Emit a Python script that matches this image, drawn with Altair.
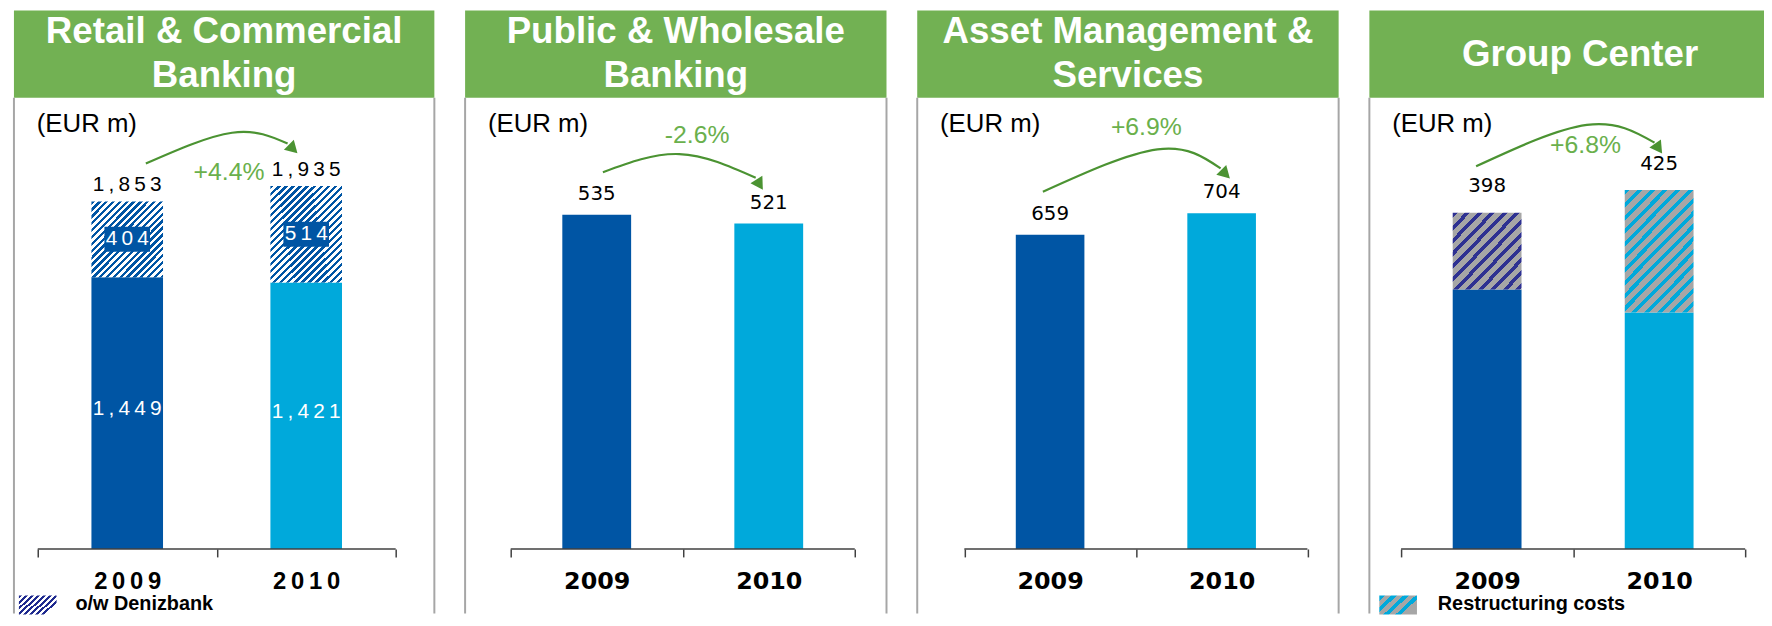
import altair as alt
import pandas as pd

# ---------------- data ----------------
years = ["2009", "2010"]

rcb_base = [1449, 1421]
rcb_deniz = [404, 514]
rcb_total = [1853, 1935]

pwb_total = [535, 521]
ams_total = [659, 704]

gc_total = [398, 425]
gc_restructuring = [91, 145]

titles = [["Retail & Commercial", "Banking"],
          ["Public & Wholesale", "Banking"],
          ["Asset Management &", "Services"],
          ["Group Center"]]
growth_labels = ["+4.4%", "-2.6%", "+6.9%", "+6.8%"]

# growth arrows (x in category units 0..2, y in EUR m)
arc_x = [[0.604, 1.086, 1.396], [0.536, 0.980, 1.424], [0.458, 1.126, 1.494], [0.436, 1.080, 1.473]]
arc_y = [[2055, 2219, 2161], [603, 632, 594], [749, 838, 798], [453, 502, 481]]
head_x = [1.427, 1.447, 1.523, 1.497]
head_y = [2132, 583, 786, 474]
head_angle = [135, 148, 135, 145]
growth_x = [1.069, 1.084, 1.061, 1.072]
growth_y = [2007, 663, 884, 478]

# ---------------- layout / style ----------------
PANEL_W = [424, 425, 425, 398]
HEADER_CX = [212, 212.5, 212.5, 212.5]
AXIS_LEFT = [24, 46, 47.5, 32]
STEP = [180.5, 173.5, 173, 173.5]
Y_MAX = [2405, 722, 946, 534]
LABEL_DY = [-16, -21, -21, -26.5]
PLOT_H = 455

DARK = "#0055a4"
LIGHT = "#00a9db"
HEADER = "#72b153"
PCT = "#6ab04c"
ARC = "#4b9332"
FRAME = "#a6a6a6"
NAVY = "#2e3192"
GREY = "#a6a6a6"
AXC = "#404040"
ARIAL = "Liberation Sans"
WIDE = "DejaVu Sans"
THIN = "\u2009"


def spaced(v):
    return THIN.join(f"{v:,}")


def stripes(bg, fg, n, frac, r):
    stops = []
    for i in range(n):
        a, b, c = i / n, (i + frac) / n, (i + 1) / n
        stops += [alt.GradientStop(color=fg, offset=a), alt.GradientStop(color=fg, offset=b),
                  alt.GradientStop(color=bg, offset=b), alt.GradientStop(color=bg, offset=c)]
    return alt.LinearGradient(gradient="linear", stops=stops, x1=0, y1=0, x2=1, y2=r)


one = pd.DataFrame({"k": [0]})


def scales(i):
    W, a, s = PANEL_W[i], AXIS_LEFT[i], STEP[i]
    outer = W - 2 * s
    xsc = alt.Scale(type="band", domain=years, paddingInner=0,
                    paddingOuter=outer / (2 * s), align=a / outer)
    qsc = alt.Scale(domain=[-a / s, (W - a) / s], nice=False, zero=False)
    ysc = alt.Scale(domain=[0, Y_MAX[i]], nice=False, zero=True)
    return xsc, qsc, ysc


def year_axis(i):
    kw = dict(title=None, domain=False, grid=False, tickBand="extent", tickSize=8,
              tickColor=AXC, tickWidth=1.5, labelAngle=0, labelFontSize=24,
              labelFontWeight="bold", labelColor="black", labelPadding=13)
    if i == 0:
        kw.update(labelFont=ARIAL, labelExpr="join(split(datum.label, ''), '\u2009')")
    else:
        kw.update(labelFont=WIDE)
    return alt.Axis(**kw)


def decoration(i):
    W = PANEL_W[i]
    ty = -66 if len(titles[i]) == 2 else -43
    layers = [
        alt.Chart(one).mark_rect(color=HEADER).encode(
            x=alt.value(0), x2=alt.value(W), y=alt.value(-88), y2=alt.value(0)),
        alt.Chart(one).mark_text(font=ARIAL, fontSize=37, fontWeight="bold", color="white",
                                 align="center", baseline="middle", lineHeight=44).encode(
            x=alt.value(HEADER_CX[i]), y=alt.value(ty), text=alt.value(titles[i])),
        alt.Chart(one).mark_rule(color=FRAME, strokeWidth=2).encode(
            x=alt.value(0), y=alt.value(0), y2=alt.value(520)),
        alt.Chart(one).mark_text(font=ARIAL, fontSize=26, color="black",
                                 align="left", baseline="middle").encode(
            x=alt.value(23), y=alt.value(26), text=alt.value("(EUR m)")),
    ]
    if i < 3:
        layers.append(alt.Chart(one).mark_rule(color=FRAME, strokeWidth=2).encode(
            x=alt.value(W), y=alt.value(0), y2=alt.value(520)))
    return layers


def arrow_layers(i, qsc, ysc):
    X = lambda f: alt.X(f, scale=qsc, axis=None)
    Y = lambda f: alt.Y(f, scale=ysc, axis=None)
    arc = pd.DataFrame({"u": arc_x[i], "v": arc_y[i]})
    head = pd.DataFrame({"u": [head_x[i]], "v": [head_y[i]]})
    lab = pd.DataFrame({"u": [growth_x[i]], "v": [growth_y[i]], "t": [growth_labels[i]]})
    dom = pd.DataFrame({"u": [0], "u2": [2], "v": [0]})
    return [
        alt.Chart(dom).mark_rule(color=AXC, strokeWidth=1.5).encode(x=X("u:Q"), x2="u2:Q", y=Y("v:Q")),
        alt.Chart(arc).mark_line(interpolate="natural", color=ARC, strokeWidth=2.2).encode(
            x=X("u:Q"), y=Y("v:Q")),
        alt.Chart(head).mark_point(shape="triangle-up", filled=True, size=200, color=ARC,
                                   opacity=1, angle=head_angle[i]).encode(x=X("u:Q"), y=Y("v:Q")),
        alt.Chart(lab).mark_text(font=ARIAL, fontSize=25, color=PCT, align="center",
                                 baseline="middle").encode(x=X("u:Q"), y=Y("v:Q"), text="t:N"),
    ]


color_scale = alt.Scale(domain=years, range=[DARK, LIGHT])


def build_panel(i):
    xsc, qsc, ysc = scales(i)
    ax = year_axis(i)
    XB = alt.X("year:N", scale=xsc, axis=ax)
    band = []
    if i == 0:
        df = pd.DataFrame({"year": years, "base": rcb_base, "part": rcb_deniz, "total": rcb_total,
                           "base_lbl": [spaced(v) for v in rcb_base],
                           "part_lbl": [spaced(v) for v in rcb_deniz],
                           "total_lbl": [spaced(v) for v in rcb_total]})
        hatch = {"2009": stripes("white", DARK, 22, 0.5, 1.05),
                 "2010": stripes("white", DARK, 29, 0.5, 1.37)}
    elif i == 3:
        base = [t - r for t, r in zip(gc_total, gc_restructuring)]
        df = pd.DataFrame({"year": years, "base": base, "part": gc_restructuring, "total": gc_total,
                           "total_lbl": [str(v) for v in gc_total]})
        hatch = {"2009": stripes(GREY, NAVY, 12, 0.4, 1.08),
                 "2010": stripes(GREY, LIGHT, 22, 0.4, 1.75)}
    else:
        tot = pwb_total if i == 1 else ams_total
        df = pd.DataFrame({"year": years, "base": tot, "total": tot,
                           "total_lbl": [str(v) for v in tot]})
        hatch = None

    band.append(alt.Chart(df).mark_bar(width=alt.RelativeBandSize(0.4)).encode(
        x=XB, y=alt.Y("base:Q", scale=ysc, axis=None),
        color=alt.Color("year:N", scale=color_scale, legend=None)))
    if hatch:
        for yr in years:
            band.append(alt.Chart(df).transform_filter(alt.datum.year == yr).mark_bar(
                width=alt.RelativeBandSize(0.4), fill=hatch[yr], strokeWidth=0).encode(
                x=XB, y=alt.Y("base:Q", scale=ysc, axis=None), y2="total:Q"))
    lab_font = ARIAL if i == 0 else WIDE
    lab_size = 21 if i == 0 else 20
    band.append(alt.Chart(df).mark_text(font=lab_font, fontSize=lab_size, color="black",
                                        baseline="middle", dy=LABEL_DY[i]).encode(
        x=XB, y=alt.Y("total:Q", scale=ysc, axis=None), text="total_lbl:N"))
    if i == 0:
        band.append(alt.Chart(df).transform_calculate(mid="datum.base / 2").mark_text(
            font=ARIAL, fontSize=21, color="white", baseline="middle", dy=-4).encode(
            x=XB, y=alt.Y("mid:Q", scale=ysc, axis=None), text="base_lbl:N"))
        band.append(alt.Chart(df).transform_calculate(mid="(datum.base + datum.total) / 2").mark_point(
            shape="M-1,-0.55L1,-0.55L1,0.55L-1,0.55Z", size=2116, filled=True, color=DARK,
            opacity=1, strokeWidth=0).encode(
            x=XB, y=alt.Y("mid:Q", scale=ysc, axis=None)))
        band.append(alt.Chart(df).transform_calculate(mid="(datum.base + datum.total) / 2").mark_text(
            font=ARIAL, fontSize=21, color="white", baseline="middle").encode(
            x=XB, y=alt.Y("mid:Q", scale=ysc, axis=None), text="part_lbl:N"))

    quant = arrow_layers(i, qsc, ysc)
    deco = decoration(i)
    if i == 0:
        deco += [
            alt.Chart(one).mark_rect(fill=stripes("white", "#1f2a8f", 8, 0.5, 0.53), strokeWidth=0).encode(
                x=alt.value(5), x2=alt.value(43), y=alt.value(502), y2=alt.value(521)),
            alt.Chart(one).mark_text(font=ARIAL, fontSize=20, fontWeight="bold", color="black",
                                     align="left", baseline="middle").encode(
                x=alt.value(62), y=alt.value(511), text=alt.value("o/w Denizbank")),
        ]
    if i == 3:
        deco += [
            alt.Chart(one).mark_rect(fill=stripes(GREY, LIGHT, 4, 0.45, 0.53), strokeWidth=0).encode(
                x=alt.value(10), x2=alt.value(48), y=alt.value(502), y2=alt.value(521)),
            alt.Chart(one).mark_text(font=ARIAL, fontSize=20, fontWeight="bold", color="black",
                                     align="left", baseline="middle").encode(
                x=alt.value(69), y=alt.value(511), text=alt.value("Restructuring costs")),
        ]

    return alt.layer(alt.layer(*deco), alt.layer(*band), alt.layer(*quant)).resolve_scale(
        x="independent").properties(width=PANEL_W[i], height=PLOT_H)


chart = alt.hconcat(*[build_panel(i) for i in range(4)], spacing=29).properties(
    padding={"left": 5, "top": 0, "right": 0, "bottom": 0},
    background="white",
).configure_view(stroke=None)

chart.save("out.html", embed_options={"renderer": "svg", "actions": False})
